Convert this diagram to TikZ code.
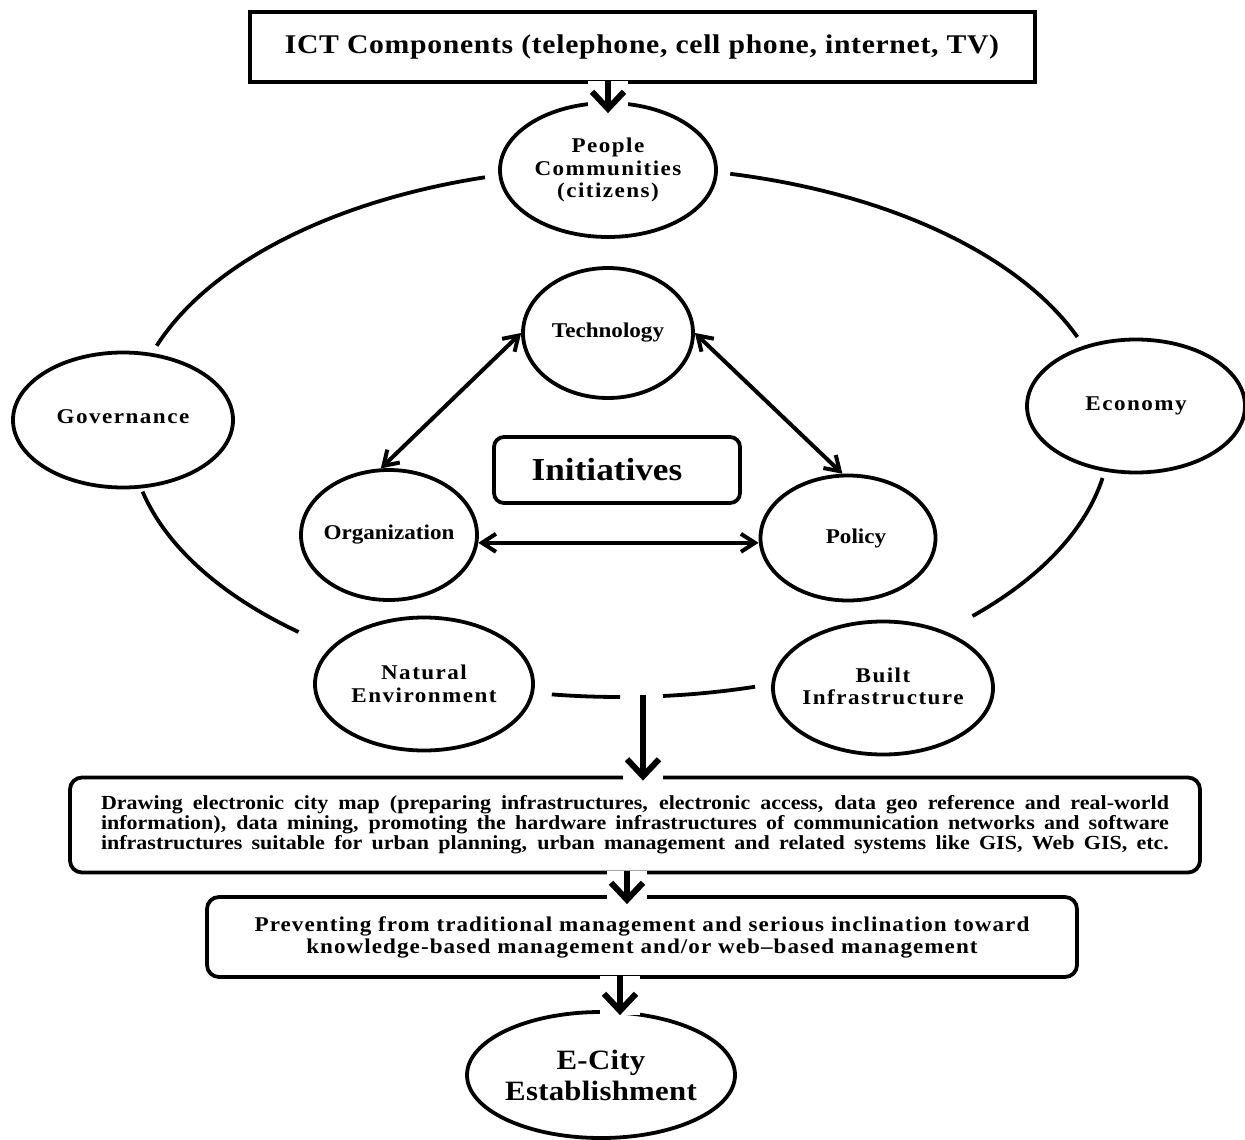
\documentclass[tikz,border=0pt]{standalone}
\usepackage{fontspec}
\setmainfont[FakeStretch=1.1]{Liberation Serif}
\usetikzlibrary{positioning, shapes.geometric, arrows.meta}

\tikzset{
  blob/.style={ellipse, draw, line width=3.8pt, inner sep=-30pt, align=center,
    font=\bfseries\fontsize{21}{22.5}\selectfont},
  spaced/.style={font=\bfseries\fontsize{21}{22.5}\selectfont\addfontfeature{LetterSpace=7}},
  flowbox/.style={draw, rounded corners=12pt, line width=3.8pt, inner sep=0pt, align=center},
  ring/.style={line width=3.8pt},
  link/.style={line width=4pt,
    {Straight Barb[length=14pt,width=18pt]}-{Straight Barb[length=14pt,width=18pt]}},
  godown/.style={line width=6pt, -{Straight Barb[length=17pt,width=32pt]},
    preaction={draw=white, line width=40pt, -}},
}

\begin{document}
\begin{tikzpicture}[x=1pt, y=-1pt]
\useasboundingbox (0,0) rectangle (1245,1140);

% Top source box
\node[draw, line width=4pt, minimum width=785pt, minimum height=70pt,
  font=\bfseries\fontsize{27}{30}\selectfont\addfontfeature{LetterSpace=2.5}] (ict) at (642,47)
  {ICT Components (telephone, cell phone, internet, TV)};

% Outer ring of the city
\node[blob, spaced, minimum width=216pt, minimum height=134pt] (people) at (608,170) {People\\Communities\\(citizens)};
\node[blob, spaced, minimum width=220pt, minimum height=135pt] (gov) at (123,420) {\raisebox{7pt}{Governance}};
\node[blob, spaced, minimum width=218pt, minimum height=133pt] (econ) at (1136,406) {\raisebox{4pt}{Economy}};
\node[blob, spaced, minimum width=218pt, minimum height=133pt] (nature) at (424,684) {Natural\\Environment};
\node[blob, spaced, minimum width=220pt, minimum height=133pt] (built) at (883,688) {\raisebox{4pt}{Built}\\\raisebox{4pt}{Infrastructure}};
\foreach \a/\b in {199/254, 131/167, 90/98, 74/85, 10/44, 283/339} {
    \draw[ring] plot[domain=\a:\b, samples=40] ({620+490*cos(\x)}, {432+265*sin(\x)});
}

% Inner triangle
\node[blob, minimum width=170pt, minimum height=130pt] (tech) at (608,333) {\raisebox{4pt}{Technology}};
\node[blob, minimum width=176pt, minimum height=130pt] (org) at (389,535) {Organization};
\node[blob, minimum width=175pt, minimum height=125pt] (policy) at (848,538) {\hspace*{16pt}\raisebox{3pt}{Policy}};
\node[flowbox, rounded corners=10pt, minimum width=246pt, minimum height=66pt,
  font=\bfseries\fontsize{32}{34}\selectfont] (init) at (617,470) {\hspace*{-20pt}Initiatives};
\draw[link] (tech.west) -- (org.97);
\draw[link] (tech.east) -- (policy.95);
\draw[link] (org.-5) -- (org.-5 -| policy.west);

% Steps down to the e-city
\coordinate (drop) at (643,695);
\node[flowbox, minimum width=1130pt, minimum height=95pt,
  font=\bfseries\fontsize{20}{20}\selectfont] (mapbox) at (635,825)
  {\makebox[1068pt][s]{Drawing electronic city map (preparing infrastructures, electronic access, data geo reference and real-world}\\
   \makebox[1068pt][s]{information), data mining, promoting the hardware infrastructures of communication networks and software}\\
   \makebox[1068pt][s]{infrastructures suitable for urban planning, urban management and related systems like GIS, Web GIS, etc.}};
\node[flowbox, minimum width=870pt, minimum height=80pt,
  font=\bfseries\fontsize{21}{22}\selectfont\addfontfeature{LetterSpace=5}] (prevbox) at (642,937)
  {Preventing from traditional management and serious inclination toward\\
   knowledge-based management and/or web--based management};
\node[blob, minimum width=268pt, minimum height=126pt,
  font=\bfseries\fontsize{28}{31}\selectfont\addfontfeature{LetterSpace=1}] (ecity) at (601,1075) {E-City\\Establishment};

\draw[godown] ([yshift=3pt]ict.south -| people.north) -- ([yshift=-12pt]people.north);
\draw[godown] (drop) -- ([yshift=-5pt]drop |- mapbox.north);
\draw[godown] ([xshift=-8pt, yshift=3pt]mapbox.south) -- ([xshift=-8pt, yshift=-9pt]mapbox.south |- prevbox.north);
\draw[godown] ([xshift=-22pt, yshift=3pt]prevbox.south) -- ([xshift=-22pt, yshift=-5pt]prevbox.south |- ecity.north);

\end{tikzpicture}
\end{document}
